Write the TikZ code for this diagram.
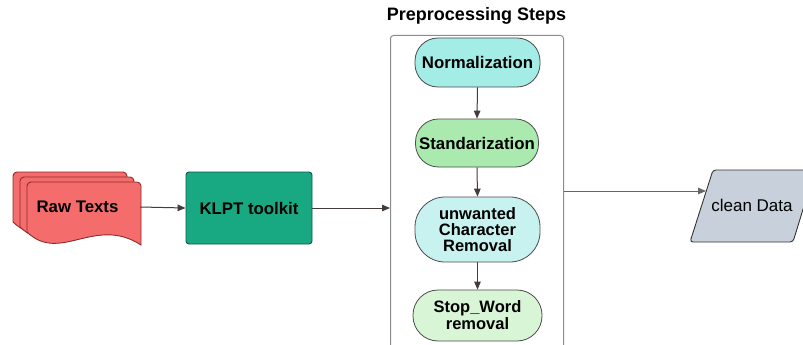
\documentclass[tikz,border=0pt]{standalone}
\usepackage{fontspec}
\setmainfont{Liberation Sans}
\usetikzlibrary{arrows.meta}
\definecolor{rawred}{RGB}{244,108,108}
\definecolor{rawedge}{RGB}{140,45,45}
\definecolor{klptgreen}{RGB}{24,168,130}
\definecolor{klptedge}{RGB}{12,90,70}
\definecolor{normc}{RGB}{164,236,230}
\definecolor{standc}{RGB}{170,234,174}
\definecolor{unwc}{RGB}{200,242,240}
\definecolor{stopc}{RGB}{216,245,214}
\definecolor{cleanc}{RGB}{200,209,219}
\definecolor{linec}{RGB}{70,58,58}
\definecolor{boxgray}{RGB}{140,140,140}
\tikzset{
  lbl/.style={font=\fontsize{16.8}{16.8}\selectfont\bfseries, align=center, inner sep=0pt},
  docshape/.style={fill=rawred, draw=rawedge, line width=0.9pt},
  stadium/.style={lbl, draw=black!70, line width=0.8pt, rounded corners=23pt},
  arr/.style={draw=linec, line width=1pt, -{Triangle[length=8pt,width=6.5pt]}},
}
\begin{document}
\begin{tikzpicture}[x=1pt,y=-1pt]
\clip (0,0) rectangle (803,345);
\fill[white] (0,0) rectangle (803,345);
% Raw texts (multi-document)
\foreach \dx/\dy in {0/0,7/5,14/10}{
  \draw[docshape, shift={(\dx,\dy)}] (127,235) .. controls (81,205) and (46,254) .. (13,222)
     [rounded corners=4pt] -- (13,172) -- (127,172) [sharp corners] -- cycle;
}
\node[lbl, minimum width=125, minimum height=50] (raw) at (77.5,207) {Raw Texts};
% KLPT
\node[lbl, fill=klptgreen, draw=klptedge, line width=0.9pt, rounded corners=3pt,
      minimum width=126, minimum height=72] (klpt) at (249,208) {KLPT toolkit};
% container
\node[anchor=south, lbl, font=\fontsize{18}{18}\selectfont\bfseries] (title) at (476.5,25) {Preprocessing Steps};
\node[draw=boxgray, line width=1pt, rounded corners=3pt, anchor=north west,
      minimum width=173, minimum height=330] (prep) at (390,35) {};
% steps
\node[stadium, fill=normc, minimum width=125, minimum height=49] (norm) at (477.5,62.5) {Normalization};
\node[stadium, fill=standc, minimum width=123, minimum height=48] (stand) at (477,143) {Standarization};
\node[stadium, fill=unwc, minimum width=125, minimum height=65, rounded corners=30pt, font=\fontsize{16.5}{16.3}\selectfont\bfseries] (unw) at (477.5,229.5) {unwanted\\Character\\Removal};
\node[stadium, fill=stopc, minimum width=129, minimum height=51, rounded corners=25pt, font=\fontsize{16.5}{17}\selectfont\bfseries] (stop) at (477.5,315.5) {Stop\_Word\\removal};
% clean data
\draw[fill=cleanc, draw=black!80, line width=0.9pt, rounded corners=3pt]
  (713,170) -- (815,170) -- (793,242) -- (690,242) -- cycle;
\node[font=\fontsize{17}{17}\selectfont] (clean) at (752,205) {clean Data};
\coordinate (cin) at (706,191);
% connectors
\draw[arr] (raw.east) -- (klpt.west);
\draw[arr] (klpt.east) -- (klpt.east -| prep.west);
\draw[arr] (norm.south) -- (stand.north);
\draw[arr] (stand.south) -- (unw.north);
\draw[arr] (unw.south) -- (stop.north);
\draw[arr, draw=black!60] (prep.east |- cin) -- (cin);
\end{tikzpicture}
\end{document}
